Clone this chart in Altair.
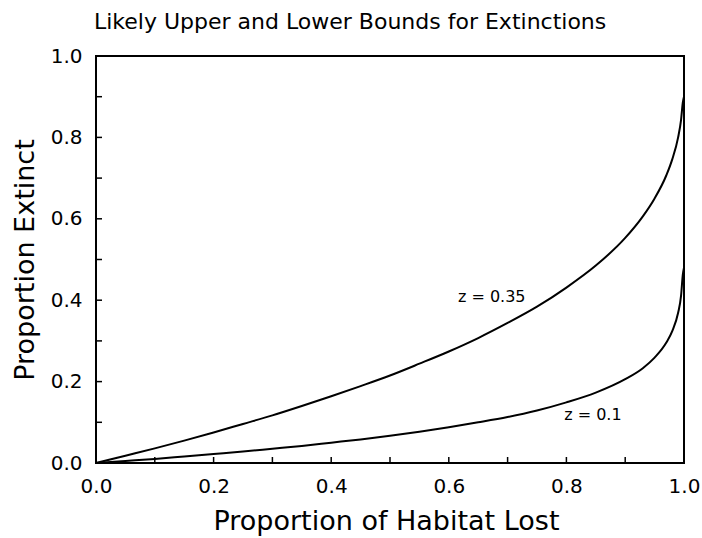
import altair as alt
import pandas as pd

# Habitat lost (x) and the proportion of species driven extinct (y) for two z values
habitat_lost = [0.0, 0.05, 0.10, 0.15, 0.20, 0.25, 0.30, 0.35, 0.40, 0.45, 0.50,
                0.55, 0.60, 0.65, 0.70, 0.75, 0.80, 0.85, 0.90, 0.93, 0.95, 0.97,
                0.98, 0.99, 0.995, 0.998, 1.0]
extinct_z035 = [0.0, 0.018, 0.036, 0.055, 0.075, 0.096, 0.117, 0.140, 0.164, 0.189,
                0.215, 0.244, 0.274, 0.307, 0.344, 0.384, 0.431, 0.485, 0.553, 0.606,
                0.650, 0.707, 0.746, 0.800, 0.843, 0.886, 0.900]
extinct_z010 = [0.0, 0.005, 0.010, 0.016, 0.022, 0.028, 0.035, 0.042, 0.050, 0.058,
                0.067, 0.077, 0.088, 0.100, 0.113, 0.129, 0.149, 0.173, 0.206, 0.233,
                0.259, 0.296, 0.324, 0.369, 0.411, 0.463, 0.480]

# Curve labels and where they sit (data units)
label_text = ["z = 0.35", "z = 0.1"]
label_x = [0.673, 0.845]
label_y = [0.408, 0.118]

# Axis tick values
tick_labels = [0.0, 0.2, 0.4, 0.6, 0.8, 1.0]
minor_ticks = [0.1, 0.3, 0.5, 0.7, 0.9]

W, H = 588, 407
FONT = "DejaVu Sans"

curves = pd.DataFrame({
    "h": habitat_lost * 2,
    "p": extinct_z035 + extinct_z010,
    "z": ["0.35"] * len(habitat_lost) + ["0.1"] * len(habitat_lost),
})
labels = pd.DataFrame({"h": label_x, "p": label_y, "t": label_text})
ticks = pd.DataFrame({"h": tick_labels + minor_ticks})
ticks["p"] = ticks["h"]

xs = alt.Scale(domain=[0, 1], nice=False, zero=False)
ys = alt.Scale(domain=[0, 1], nice=False, zero=False)

lines = alt.Chart(curves).mark_line(color="black", strokeWidth=2, interpolate="monotone").encode(
    x=alt.X("h:Q", scale=xs, axis=alt.Axis(
        title="Proportion of Habitat Lost", values=tick_labels, format=".1f",
        domain=False, ticks=False, grid=False, labelFlush=False,
        labelFont=FONT, labelFontSize=20, labelColor="black", labelPadding=13,
        titleFont=FONT, titleFontSize=27, titleFontWeight="normal", titleColor="black",
        titleBaseline="alphabetic", titleY=66, titleX=W / 2 - 4, titleAnchor="middle")),
    y=alt.Y("p:Q", scale=ys, axis=alt.Axis(
        title="Proportion Extinct", values=tick_labels, format=".1f",
        domain=False, ticks=False, grid=False, labelFlush=False,
        labelFont=FONT, labelFontSize=20, labelColor="black", labelPadding=14,
        titleFont=FONT, titleFontSize=27, titleFontWeight="normal", titleColor="black",
        titleAngle=-90, titleBaseline="alphabetic", titleX=-63, titleY=H / 2,
        titleAlign="center")),
    detail="z:N",
)

text = alt.Chart(labels).mark_text(font=FONT, fontSize=16, color="black").encode(
    x=alt.X("h:Q", scale=xs),
    y=alt.Y("p:Q", scale=ys),
    text="t:N",
)

# Inward-pointing ticks on the left and bottom edges
yticks = alt.Chart(ticks).mark_rule(color="black", strokeWidth=1.5).encode(
    y=alt.Y("p:Q", scale=ys),
    x=alt.value(0),
    x2=alt.value(6),
)
xticks = alt.Chart(ticks).mark_rule(color="black", strokeWidth=1.5).encode(
    x=alt.X("h:Q", scale=xs),
    y=alt.value(H),
    y2=alt.value(H - 6),
)

chart = alt.layer(lines, text, yticks, xticks).properties(
    width=W, height=H,
    title=alt.TitleParams(
        "Likely Upper and Lower Bounds for Extinctions",
        font=FONT, fontSize=22, fontWeight="normal", color="black",
        anchor="start", frame="group", baseline="alphabetic", offset=27, dx=-2, dy=32),
    autosize=alt.AutoSizeParams(type="none"),
    padding={"left": 96, "top": 56, "right": 18, "bottom": 75},
    background="white",
).configure_view(stroke="black", strokeWidth=2)

chart.save("out.html", embed_options={"renderer": "svg", "actions": False})
